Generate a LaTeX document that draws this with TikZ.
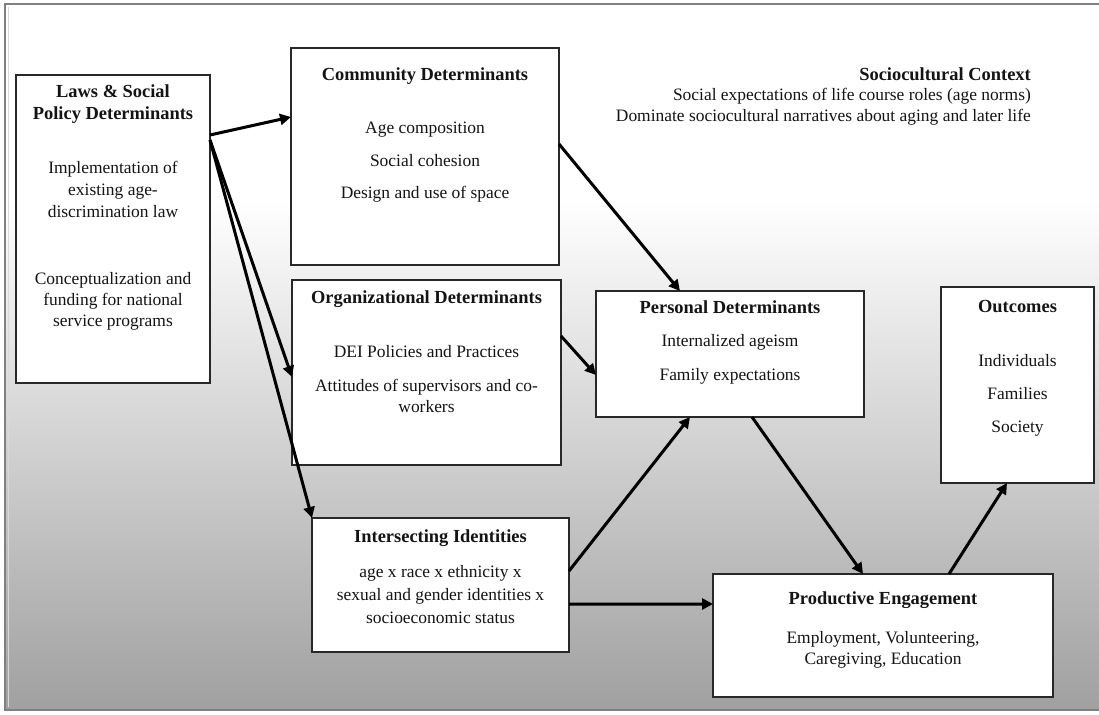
\documentclass[tikz,border=0pt]{standalone}
\usepackage{fontspec}
\setmainfont{Liberation Serif}
\usetikzlibrary{arrows.meta,calc}
\definecolor{bgEnd}{RGB}{160,160,160}
\definecolor{frameCol}{RGB}{128,128,128}
\definecolor{boxLine}{RGB}{40,40,40}
\definecolor{txt}{RGB}{20,20,20}
\newcommand\dgTitle{\fontsize{18.5}{22}\selectfont\bfseries}
\newcommand\dgBody{\fontsize{17.5}{21}\selectfont}
\begin{document}
\begin{tikzpicture}[x=1bp,y=-1bp,
  box/.style={draw=boxLine, line width=1.3bp, fill=white, inner sep=0pt, outer sep=0pt},
  ttl/.style={font=\dgTitle, text=txt, anchor=base, inner sep=0pt},
  bdy/.style={font=\dgBody, text=txt, anchor=base, inner sep=0pt},
  link/.style={line width=3bp, black, -{Triangle[length=11bp,width=11bp]}}]
\useasboundingbox (0,0) rectangle (1099,715);
% background
\fill[white] (0,0) rectangle (1099,715);
\fill[white] (5,4) rectangle (1099,200);
\shade[top color=white, bottom color=bgEnd] (5,200) rectangle (1099,710);
\draw[frameCol, line width=1.2bp] (1099,4) -- (5,4) -- (5,710) -- (1099,710);
\draw[white!85!black, line width=0.8bp] (8.5,7) -- (8.5,707);

% boxes
\node[box, minimum width=194bp, minimum height=308bp] (laws) at (113,229) {};
\node[box, minimum width=268bp, minimum height=217bp] (comm) at (425,156.5) {};
\node[box, minimum width=269bp, minimum height=185bp] (org) at (426.5,372.5) {};
\node[box, minimum width=268bp, minimum height=126bp] (pers) at (730,354) {};
\node[box, minimum width=153bp, minimum height=196bp] (outc) at (1017.5,385) {};
\node[box, minimum width=257bp, minimum height=134bp] (inter) at (440.5,585) {};
\node[box, minimum width=340bp, minimum height=123bp] (prod) at (883,635.5) {};

% laws text
\node[ttl] (lawsT1) at (113,98) {Laws \& Social};
\node[ttl] (lawsT2) at (113,120) {Policy Determinants};
\node[bdy] (lawsA1) at (113,174) {Implementation of};
\node[bdy] (lawsA2) at (113,196) {existing age-};
\node[bdy] (lawsA3) at (113,218) {discrimination law};
\node[bdy] (lawsB1) at (113,284) {Conceptualization and};
\node[bdy] (lawsB2) at (113,305) {funding for national};
\node[bdy] (lawsB3) at (113,326) {service programs};

% community text
\node[ttl] (commT) at (425,81) {Community Determinants};
\node[bdy] (commA) at (425,134) {Age composition};
\node[bdy] (commB) at (425,167) {Social cohesion};
\node[bdy] (commC) at (425,199) {Design and use of space};

% organizational text
\node[ttl] (orgT) at (426.5,303) {Organizational Determinants};
\node[bdy] (orgA) at (426.5,357) {DEI Policies and Practices};
\node[bdy] (orgB1) at (426.5,391) {Attitudes of supervisors and co-};
\node[bdy] (orgB2) at (426.5,412) {workers};

% personal text
\node[ttl] (persT) at (730,313) {Personal Determinants};
\node[bdy] (persA) at (730,346) {Internalized ageism};
\node[bdy] (persB) at (730,380) {Family expectations};

% outcomes text
\node[ttl] (outcT) at (1017.5,312) {Outcomes};
\node[bdy] (outcA) at (1017.5,366) {Individuals};
\node[bdy] (outcB) at (1017.5,399) {Families};
\node[bdy] (outcC) at (1017.5,432) {Society};

% intersecting text
\node[ttl] (interT) at (440.5,542) {Intersecting Identities};
\node[bdy] (interA) at (440.5,577) {age x race x ethnicity x};
\node[bdy] (interB) at (440.5,600) {sexual and gender identities x};
\node[bdy] (interC) at (440.5,623) {socioeconomic status};

% productive text
\node[ttl] (prodT) at (883,604) {Productive Engagement};
\node[bdy] (prodA) at (883,643) {Employment, Volunteering,};
\node[bdy] (prodB) at (883,664) {Caregiving, Education};

% sociocultural context
\node[ttl, anchor=base east] (ctxT) at (1031,81) {Sociocultural Context};
\node[bdy, anchor=base east] (ctxA) at (1031,101) {Social expectations of life course roles (age norms)};
\node[bdy, anchor=base east] (ctxB) at (1031,122) {Dominate sociocultural narratives about aging and later life};

% connectors
\draw[link] ($(laws.north east)+(0,60)$) -- ($(comm.north west)+(0,69)$);
\draw[link] ($(laws.north east)+(0,65)$) -- ($(org.north west)+(0,97)$);
\draw[link] ($(laws.north east)+(0,65)$) -- (inter.north west);
\draw[link] ($(comm.north east)+(0,96)$) -- ($(pers.north west)+(84,0)$);
\draw[link] ($(org.north east)+(0,56)$) -- ($(pers.north west)+(0,84)$);
\draw[link] ($(inter.north east)+(0,53)$) -- ($(pers.south west)+(94,0)$);
\draw[link] ($(inter.north east)+(0,86)$) -- ($(prod.north west)+(0,30)$);
\draw[link] ($(pers.south west)+(156,0)$) -- ($(prod.north west)+(150,0)$);
\draw[link] ($(prod.north west)+(236,0)$) -- ($(outc.south west)+(66,0)$);
\end{tikzpicture}
\end{document}
